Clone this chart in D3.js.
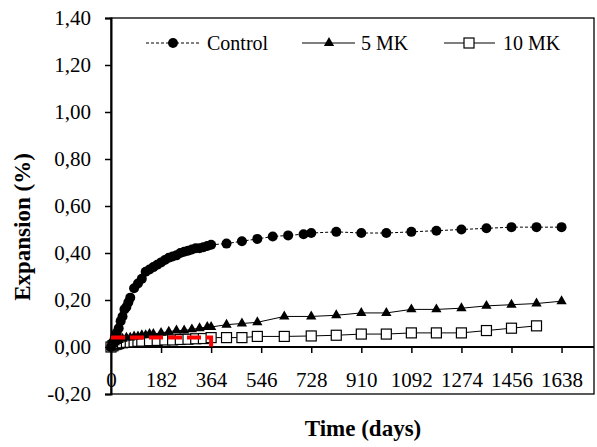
<!DOCTYPE html>
<html>
<head>
<meta charset="utf-8">
<script src="https://cdn.jsdelivr.net/npm/d3@7"></script>
<style>
  body { margin: 0; background: #fff; }
</style>
</head>
<body>
<div id="chart"></div>
<script>
// Chart data
var xTicks = [0, 182, 364, 546, 728, 910, 1092, 1274, 1456, 1638];
var yTicks = [-0.2, 0, 0.2, 0.4, 0.6, 0.8, 1.0, 1.2, 1.4];

var controlDays = [0, 7, 14, 21, 28, 35, 42, 49, 56, 63, 70, 84, 98, 112, 126, 140, 154, 168, 182,
  196, 210, 224, 238, 252, 266, 280, 294, 308, 322, 336, 350, 364,
  420, 476, 532, 588, 644, 700, 728, 819, 910, 1001, 1092, 1183, 1274, 1365, 1456, 1547, 1638];
var controlValues = [0.00, 0.02, 0.04, 0.06, 0.08, 0.11, 0.13, 0.16, 0.17, 0.19, 0.21, 0.25, 0.27, 0.29, 0.32, 0.33, 0.34, 0.35, 0.36,
  0.37, 0.38, 0.385, 0.39, 0.40, 0.405, 0.41, 0.415, 0.42, 0.42, 0.425, 0.43, 0.435,
  0.44, 0.45, 0.46, 0.47, 0.475, 0.48, 0.485, 0.49, 0.485, 0.485, 0.49, 0.495, 0.50, 0.505, 0.51, 0.51, 0.51];

var mk5Days = [0, 7, 14, 21, 28, 42, 56, 70, 84, 98, 112, 126, 140, 154, 182, 210, 238, 266, 294, 322, 350, 364,
  420, 476, 532, 630, 728, 819, 910, 1001, 1092, 1183, 1274, 1365, 1456, 1547, 1638];
var mk5Values = [0.00, 0.01, 0.02, 0.025, 0.03, 0.035, 0.04, 0.04, 0.045, 0.045, 0.05, 0.05, 0.055, 0.055, 0.06, 0.065, 0.07, 0.07, 0.075, 0.08, 0.085, 0.085,
  0.095, 0.10, 0.105, 0.13, 0.13, 0.135, 0.145, 0.145, 0.16, 0.16, 0.165, 0.175, 0.18, 0.185, 0.195];

var mk10Days = [0, 7, 14, 21, 28, 42, 56, 70, 84, 98, 112, 140, 168, 196, 224, 252, 280, 308, 336, 364,
  420, 476, 532, 630, 728, 819, 910, 1001, 1092, 1183, 1274, 1365, 1456, 1547];
var mk10Values = [0.00, 0.005, 0.01, 0.012, 0.015, 0.018, 0.02, 0.02, 0.022, 0.024, 0.025, 0.027, 0.028, 0.03, 0.03, 0.032, 0.033, 0.035, 0.036, 0.04,
  0.04, 0.04, 0.045, 0.045, 0.047, 0.05, 0.055, 0.055, 0.06, 0.06, 0.06, 0.07, 0.08, 0.09];

// Red dashed limit line (0.04 % at one year)
var limitDays = [0, 364, 364];
var limitValues = [0.04, 0.04, 0];

var seriesNames = ["Control", "5 MK", "10 MK"];

// Canvas
var width = 597;
var height = 447;
var plot = { left: 111, right: 594, top: 18, bottom: 394 };
var serif = "Liberation Serif";

var svg = d3.select("#chart")
  .append("svg")
  .attr("width", width)
  .attr("height", height);

var xScale = d3.scaleLinear().domain([0, 1756]).range([plot.left, plot.right]);
var yScale = d3.scaleLinear().domain([-0.2, 1.4]).range([plot.bottom, plot.top]);

function zip(days, values) {
  return days.map(function(d, i) { return { x: d, y: values[i] }; });
}
var control = zip(controlDays, controlValues);
var mk5 = zip(mk5Days, mk5Values);
var mk10 = zip(mk10Days, mk10Values);
var limit = zip(limitDays, limitValues);

var fmt = function(v) { return d3.format(".2f")(v).replace(".", ",").replace("−", "-"); };

// Frame
svg.append("rect")
  .attr("x", plot.left)
  .attr("y", plot.top)
  .attr("width", plot.right - plot.left)
  .attr("height", plot.bottom - plot.top)
  .attr("fill", "none")
  .attr("stroke", "#000")
  .attr("stroke-width", 1.3);

// Y axis
var yAxis = d3.axisLeft(yScale).tickValues(yTicks).tickSize(6).tickPadding(14).tickFormat(fmt);
var yG = svg.append("g")
  .attr("transform", "translate(" + plot.left + ",0)")
  .call(yAxis)
  .attr("font-family", serif)
  .attr("font-size", 21);
yG.select(".domain").attr("stroke-width", 2);
yG.selectAll(".tick line").attr("stroke-width", 1.5);
yG.selectAll("text").attr("fill", "#000");

// X axis on zero line
var xAxis = d3.axisBottom(xScale).tickValues(xTicks).tickSize(6).tickPadding(19).tickFormat(d3.format("d"));
var xG = svg.append("g")
  .attr("transform", "translate(0," + yScale(0) + ")")
  .call(xAxis)
  .attr("font-family", serif)
  .attr("font-size", 21);
xG.select(".domain").attr("d", "M" + plot.left + ",0H" + plot.right).attr("stroke-width", 2);
xG.selectAll(".tick line").attr("stroke-width", 1.5);
xG.selectAll("text").attr("fill", "#000");

// Axis titles
svg.append("text")
  .attr("x", 363)
  .attr("y", 436)
  .attr("text-anchor", "middle")
  .attr("font-family", serif)
  .attr("font-size", 23)
  .attr("font-weight", "bold")
  .text("Time (days)");

svg.append("text")
  .attr("transform", "translate(30,227)rotate(-90)")
  .attr("text-anchor", "middle")
  .attr("font-family", serif)
  .attr("font-size", 23)
  .attr("font-weight", "bold")
  .text("Expansion (%)");

// Lines
var line = d3.line()
  .x(function(d) { return xScale(d.x); })
  .y(function(d) { return yScale(d.y); });

svg.append("path").datum(control)
  .attr("d", line).attr("fill", "none").attr("stroke", "#000")
  .attr("stroke-width", 1).attr("stroke-dasharray", "3,2");
svg.append("path").datum(mk5)
  .attr("d", line).attr("fill", "none").attr("stroke", "#000").attr("stroke-width", 1);
svg.append("path").datum(mk10)
  .attr("d", line).attr("fill", "none").attr("stroke", "#000").attr("stroke-width", 1);

// Markers
var tri = d3.symbol().type(d3.symbolTriangle).size(46);

svg.selectAll(".sq").data(mk10).enter().append("rect")
  .attr("class", "sq")
  .attr("x", function(d) { return xScale(d.x) - 5; })
  .attr("y", function(d) { return yScale(d.y) - 5; })
  .attr("width", 10).attr("height", 10)
  .attr("fill", "#fff").attr("stroke", "#000").attr("stroke-width", 1.2);

svg.selectAll(".tri").data(mk5).enter().append("path")
  .attr("class", "tri")
  .attr("d", tri)
  .attr("transform", function(d) { return "translate(" + xScale(d.x) + "," + yScale(d.y) + ")"; })
  .attr("fill", "#000");

svg.selectAll(".dot").data(control).enter().append("circle")
  .attr("class", "dot")
  .attr("cx", function(d) { return xScale(d.x); })
  .attr("cy", function(d) { return yScale(d.y); })
  .attr("r", 5)
  .attr("fill", "#000");

// Red limit
svg.append("path").datum(limit)
  .attr("d", line).attr("fill", "none").attr("stroke", "#ff0000")
  .attr("stroke-width", 4).attr("stroke-dasharray", "14,5");

// Legend
var legend = svg.append("g").attr("class", "legend");
var legY = 43;
var legItems = [
  { name: seriesNames[0], x1: 146, x2: 200, mx: 173, tx: 207, dash: "3,2", mark: "circle" },
  { name: seriesNames[1], x1: 302, x2: 355, mx: 329, tx: 361, dash: null, mark: "triangle" },
  { name: seriesNames[2], x1: 444, x2: 495, mx: 469, tx: 503, dash: null, mark: "square" }
];
legItems.forEach(function(it) {
  legend.append("line")
    .attr("x1", it.x1).attr("x2", it.x2).attr("y1", legY).attr("y2", legY)
    .attr("stroke", "#000").attr("stroke-width", 1)
    .attr("stroke-dasharray", it.dash);
  if (it.mark === "circle") {
    legend.append("circle").attr("cx", it.mx).attr("cy", legY).attr("r", 5).attr("fill", "#000");
  } else if (it.mark === "triangle") {
    legend.append("path").attr("d", tri).attr("transform", "translate(" + it.mx + "," + legY + ")").attr("fill", "#000");
  } else {
    legend.append("rect").attr("x", it.mx - 5).attr("y", legY - 5).attr("width", 10).attr("height", 10)
      .attr("fill", "#fff").attr("stroke", "#000").attr("stroke-width", 1.2);
  }
  legend.append("text")
    .attr("x", it.tx).attr("y", legY + 7)
    .attr("font-family", serif)
    .attr("font-size", 20)
    .text(it.name);
});
</script>
</body>
</html>
